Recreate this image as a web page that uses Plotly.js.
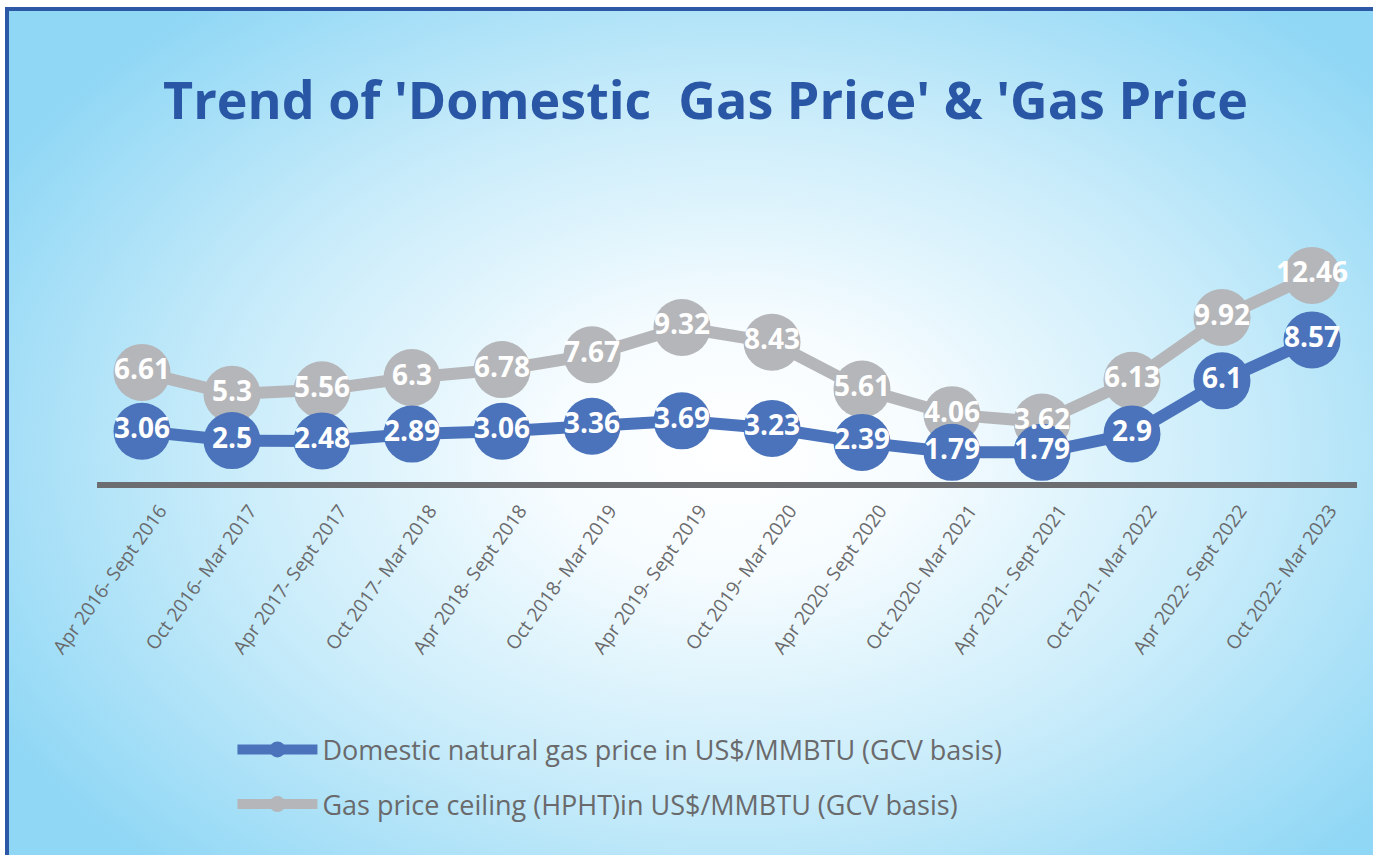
<!DOCTYPE html>
<html>
<head>
<meta charset="utf-8">
<script src="https://cdn.plot.ly/plotly-3.0.1.min.js"></script>
<style>
  html, body { margin: 0; padding: 0; background: #ffffff; width: 1373px; height: 855px; overflow: hidden; }
  #frame {
    position: absolute; left: 5px; top: 7px; width: 1368px; height: 848px;
    box-sizing: border-box;
    border-left: 4px solid #2d58a6; border-top: 4px solid #2d58a6;
    background: radial-gradient(ellipse 62% 68% at 53% 52%, #ffffff 0%, #f6fcff 22%, #c9ecfa 60%, #8fd7f5 100%);
  }
  #chart { position: absolute; left: 0; top: 0; width: 1373px; height: 855px; }
</style>
</head>
<body>
<div id="frame"></div>
<div id="chart"></div>
<script>
const categories = [
  "Apr 2016- Sept 2016", "Oct 2016- Mar 2017", "Apr 2017- Sept 2017", "Oct 2017- Mar 2018",
  "Apr 2018- Sept 2018", "Oct 2018- Mar 2019", "Apr 2019- Sept 2019", "Oct 2019- Mar 2020",
  "Apr 2020- Sept 2020", "Oct 2020- Mar 2021", "Apr 2021- Sept 2021", "Oct 2021- Mar 2022",
  "Apr 2022- Sept 2022", "Oct 2022- Mar 2023"
];
const domesticPrice = [3.06, 2.5, 2.48, 2.89, 3.06, 3.36, 3.69, 3.23, 2.39, 1.79, 1.79, 2.9, 6.1, 8.57];
const ceilingPrice = [6.61, 5.3, 5.56, 6.3, 6.78, 7.67, 9.32, 8.43, 5.61, 4.06, 3.62, 6.13, 9.92, 12.46];
const domesticName = "Domestic natural gas price in US$/MMBTU (GCV basis)";
const ceilingName = "Gas price ceiling (HPHT)in US$/MMBTU (GCV basis)";
const titleText = "Trend of 'Domestic \u00a0Gas Price' & 'Gas Price";

const blue = "#4a73bb";
const grey = "#b5b6b9";

const labelFont = { family: "Open Sans, sans-serif", size: 28, color: "#ffffff", weight: 700 };

const traces = [
  {
    x: categories, y: ceilingPrice, type: "scatter", mode: "lines+markers",
    name: ceilingName, legend: "legend2",
    line: { color: grey, width: 12 },
    marker: { color: grey, size: 57 }
  },
  {
    x: categories, y: domesticPrice, type: "scatter", mode: "lines+markers",
    name: domesticName, legend: "legend",
    line: { color: blue, width: 12 },
    marker: { color: blue, size: 57 }
  },
  {
    x: categories, y: ceilingPrice, type: "scatter", mode: "text",
    text: ceilingPrice.map(String), textposition: "middle center",
    textfont: labelFont, showlegend: false
  },
  {
    x: categories, y: domesticPrice, type: "scatter", mode: "text",
    text: domesticPrice.map(String), textposition: "middle center",
    textfont: labelFont, showlegend: false
  }
];

const legendFont = { family: "Open Sans, sans-serif", size: 27, color: "#6a6a6c" };

const layout = {
  width: 1373, height: 855,
  paper_bgcolor: "rgba(0,0,0,0)", plot_bgcolor: "rgba(0,0,0,0)",
  margin: { l: 97, r: 16, t: 230, b: 373 },
  title: {
    text: titleText,
    font: { family: "Open Sans, sans-serif", size: 52, color: "#2a57a5", weight: 700 },
    x: 0.483, xanchor: "center", xref: "paper",
    y: 0.882, yanchor: "middle", yref: "container"
  },
  xaxis: {
    type: "category",
    range: [-0.5, 13.5],
    showline: true, linecolor: "#6c6d70", linewidth: 6,
    showgrid: false, zeroline: false, ticks: "",
    tickangle: -54,
    ticklabelshift: 18,
    ticklabelstandoff: 4,
    tickfont: { family: "Open Sans, sans-serif", size: 19, color: "#6a6a6c" },
    fixedrange: true
  },
  yaxis: {
    range: [0, 15.2], visible: false, showgrid: false, zeroline: false, fixedrange: true
  },
  showlegend: true,
  legend: {
    x: 0.1075, xanchor: "left", y: -1.063, yanchor: "middle",
    bgcolor: "rgba(0,0,0,0)", font: legendFont, itemwidth: 80
  },
  legend2: {
    x: 0.1075, xanchor: "left", y: -1.28, yanchor: "middle",
    bgcolor: "rgba(0,0,0,0)", font: legendFont, itemwidth: 80
  },
  hovermode: false
};

Plotly.newPlot("chart", traces, layout, { staticPlot: true, displayModeBar: false });
</script>
</body>
</html>
